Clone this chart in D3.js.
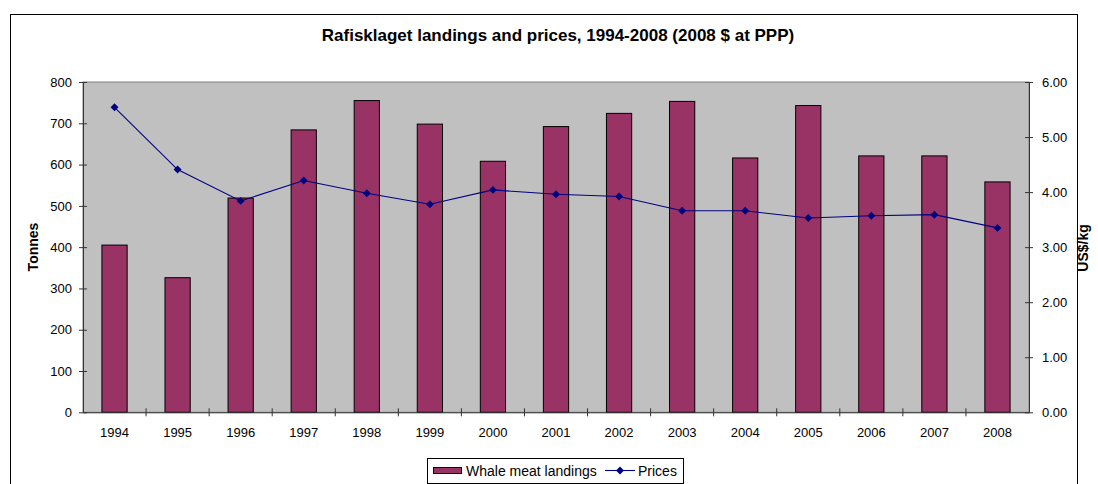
<!DOCTYPE html>
<html><head><meta charset="utf-8">
<script src="https://cdn.jsdelivr.net/npm/d3@7"></script>
<style>
html,body{margin:0;padding:0;background:#fff;}
svg{display:block;font-family:"Liberation Sans",Arial,sans-serif;}
</style></head>
<body><svg id="c" width="1098" height="484"></svg>
<script>
const years = ["1994","1995","1996","1997","1998","1999","2000","2001","2002","2003","2004","2005","2006","2007","2008"];
const landings = [405,326,519,684,755,698,608,692,724,753,616,743,621,621,558];
const prices = [5.54,4.41,3.84,4.21,3.98,3.78,4.04,3.96,3.92,3.66,3.66,3.53,3.57,3.59,3.35];
const leftTicks = [0,100,200,300,400,500,600,700,800];
const rightTicks = [0,1,2,3,4,5,6];
const title = "Rafisklaget landings and prices, 1994-2008 (2008 $ at PPP)";

const svg = d3.select("#c");
const L = 83, R = 1029, T = 82, B = 412.3;

// outer border
svg.append("rect").attr("x",10.5).attr("y",14.5).attr("width",1067).attr("height",480)
  .attr("fill","#fff").attr("stroke","#000").attr("stroke-width",1);

// plot bg
svg.append("rect").attr("x",L).attr("y",T).attr("width",R-L).attr("height",B-T)
  .attr("fill","#c0c0c0").attr("stroke","#808080").attr("stroke-width",1);

const xc = d3.scaleBand().domain(years).range([L,R]);
const yL = d3.scaleLinear().domain([0,800]).range([B,T]);
const yR = d3.scaleLinear().domain([0,6]).range([B,T]);

svg.append("text").attr("x",558).attr("y",41).attr("text-anchor","middle")
  .attr("font-size",17).attr("font-weight","bold").text(title);

// bars
const bw = xc.bandwidth()*0.4;
svg.selectAll("rect.bar").data(landings).enter().append("rect").attr("class","bar")
  .attr("x",(d,i)=>xc(years[i])+xc.bandwidth()/2-bw/2)
  .attr("width",bw)
  .attr("y",d=>yL(d)).attr("height",d=>B-yL(d))
  .attr("fill","#993366").attr("stroke","#000").attr("stroke-width",1);

const font = "Liberation Sans, Arial, sans-serif";
// left axis
const ga = svg.append("g").attr("transform",`translate(${L},0)`)
  .call(d3.axisLeft(yL).tickValues(leftTicks).tickSizeInner(4).tickSizeOuter(0).tickPadding(7).tickFormat(d3.format("d")));
ga.selectAll(".tick line").attr("x2",4).attr("x1",-4).attr("stroke","#333");
ga.select(".domain").attr("stroke","#333");
ga.selectAll("text").attr("font-size",13).attr("fill","#000").attr("font-family",font);

// right axis
const gr = svg.append("g").attr("transform",`translate(${R},0)`)
  .call(d3.axisRight(yR).tickValues(rightTicks).tickSizeInner(4).tickSizeOuter(0).tickPadding(9).tickFormat(d3.format(".2f")));
gr.selectAll(".tick line").attr("x1",-4).attr("x2",4).attr("stroke","#333");
gr.select(".domain").attr("stroke","#333");
gr.selectAll("text").attr("font-size",13).attr("fill","#000").attr("font-family",font);

// bottom axis
const gb = svg.append("g").attr("transform",`translate(0,${B})`)
  .call(d3.axisBottom(xc).tickSize(0).tickPadding(15));
gb.select(".domain").attr("stroke","#333");
gb.selectAll("text").attr("font-size",13).attr("fill","#000").attr("font-family",font);
svg.selectAll("line.xt").data(years.slice(1)).enter().append("line").attr("class","xt")
  .attr("x1",d=>xc(d)).attr("x2",d=>xc(d)).attr("y1",B-4).attr("y2",B+4).attr("stroke","#333");

// line
const line = d3.line().x((d,i)=>xc(years[i])+xc.bandwidth()/2).y(d=>yR(d));
svg.append("path").datum(prices).attr("d",line).attr("fill","none").attr("stroke","#000080").attr("stroke-width",1.1);
svg.selectAll("path.mk").data(prices).enter().append("path").attr("class","mk")
  .attr("d",d3.symbol(d3.symbolDiamond2,40))
  .attr("transform",(d,i)=>`translate(${xc(years[i])+xc.bandwidth()/2},${yR(d)})`)
  .attr("fill","#000080");

// axis titles
svg.append("text").attr("transform","translate(38,247) rotate(-90)").attr("text-anchor","middle")
  .attr("font-size",14).attr("font-weight","bold").text("Tonnes");
svg.append("text").attr("transform","translate(1088,248) rotate(-90)").attr("text-anchor","middle")
  .attr("font-size",14).attr("font-weight","bold").text("US$/kg");

// legend
svg.append("rect").attr("x",427.5).attr("y",458.5).attr("width",256).attr("height",25)
  .attr("fill","#fff").attr("stroke","#000");
svg.append("rect").attr("x",433.5).attr("y",467.5).attr("width",28).attr("height",6)
  .attr("fill","#993366").attr("stroke","#000");
svg.append("text").attr("x",466).attr("y",475.5).attr("font-size",14).text("Whale meat landings");
svg.append("line").attr("x1",605).attr("x2",635).attr("y1",470.5).attr("y2",470.5).attr("stroke","#000080").attr("stroke-width",1.1);
svg.append("path").attr("d",d3.symbol(d3.symbolDiamond2,40)).attr("transform","translate(620,470.5)").attr("fill","#000080");
svg.append("text").attr("x",638).attr("y",475.5).attr("font-size",14).text("Prices");
</script></body></html>
